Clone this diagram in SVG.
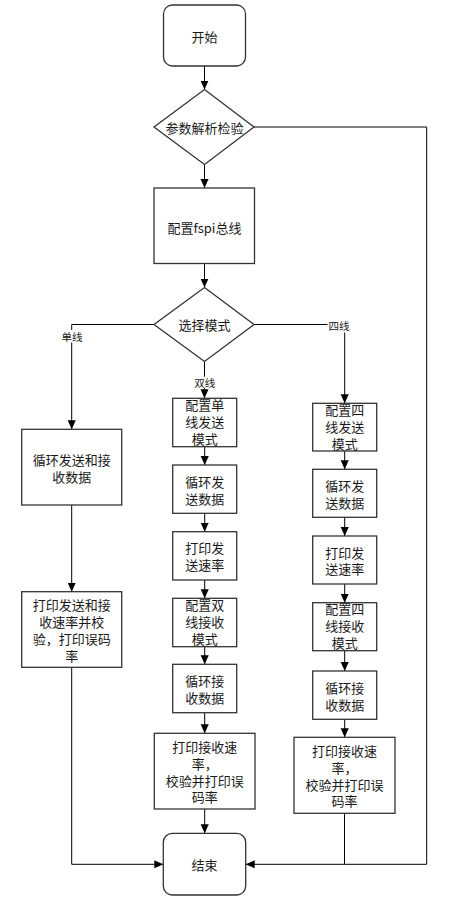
<svg xmlns="http://www.w3.org/2000/svg" width="453" height="898" viewBox="0 0 453 898">
<style>
.n{fill:#fff;stroke:#333;stroke-width:1.3}
.t{font-family:"Noto Sans CJK SC","Noto Sans",sans-serif;font-size:13px;fill:#1a1a1a;text-anchor:middle;dominant-baseline:central}
.l{font-family:"Noto Sans CJK SC","Noto Sans",sans-serif;font-size:10.5px;fill:#1a1a1a;text-anchor:middle;dominant-baseline:central}
.c{fill:none;stroke:#000;stroke-width:1}
.a{marker-end:url(#ah)}
.bg{fill:#fff}
</style>
<defs>
<marker id="ah" viewBox="0 0 10 10" refX="10" refY="5" markerWidth="9" markerHeight="9" markerUnits="userSpaceOnUse" orient="auto">
<path d="M0,0.5 L10,5 L0,9.5 z" fill="#000"/>
</marker>
</defs>
<rect width="453" height="898" fill="#fff"/>
<g id="connectors">
<line class="c a" x1="204.5" y1="66" x2="204.5" y2="89.5"/>
<polyline class="c a" points="254,127 426.7,127 426.7,864.3 245.7,864.3"/>
<line class="c a" x1="204.5" y1="164.5" x2="204.5" y2="188"/>
<line class="c a" x1="204.5" y1="263.5" x2="204.5" y2="287.5"/>
<polyline class="c a" points="154,324.5 71.7,324.5 71.7,429.3"/>
<polyline class="c a" points="254,324.5 344.7,324.5 344.7,403.3"/>
<line class="c a" x1="204.5" y1="361.5" x2="204.5" y2="398.3"/>
<rect class="bg" x="60" y="330" width="24" height="12.5"/>
<text class="l" x="72" y="336.5">单线</text>
<rect class="bg" x="327.5" y="318.5" width="23" height="14"/>
<text class="l" x="339" y="325">四线</text>
<rect class="bg" x="193" y="376.7" width="23" height="11.5"/>
<text class="l" x="204.7" y="382.5">双线</text>
<line class="c a" x1="71.7" y1="505" x2="71.7" y2="591.7"/>
<polyline class="c a" points="71.7,667.3 71.7,864.3 163.3,864.3"/>
<line class="c a" x1="204.7" y1="446.7" x2="204.7" y2="465"/>
<line class="c a" x1="204.7" y1="513.3" x2="204.7" y2="531.7"/>
<line class="c a" x1="204.7" y1="580" x2="204.7" y2="598.3"/>
<line class="c a" x1="204.7" y1="646.7" x2="204.7" y2="664.3"/>
<line class="c a" x1="204.7" y1="712.7" x2="204.7" y2="733.3"/>
<line class="c a" x1="204.7" y1="809" x2="204.7" y2="833.3"/>
<line class="c a" x1="344.7" y1="451" x2="344.7" y2="469.3"/>
<line class="c a" x1="344.7" y1="517.3" x2="344.7" y2="536"/>
<line class="c a" x1="344.7" y1="584" x2="344.7" y2="602.7"/>
<line class="c a" x1="344.7" y1="650.7" x2="344.7" y2="671"/>
<line class="c a" x1="344.7" y1="719.3" x2="344.7" y2="737.3"/>
<line class="c" x1="344.5" y1="813.3" x2="344.5" y2="864.3"/>
</g>
<g id="start"><rect class="n" x="163.5" y="5" width="82" height="61" rx="9"/><text class="t" x="204.5" y="36">开始</text></g>
<g id="check"><polygon class="n" points="204.5,89.5 254,127 204.5,164.5 154,127"/><text class="t" x="204.5" y="127">参数解析检验</text></g>
<g id="cfg"><rect class="n" x="154" y="188" width="100.5" height="75.5"/><text class="t" x="204.5" y="227.5">配置fspi总线</text></g>
<g id="mode"><polygon class="n" points="204.5,287.5 254,324.5 204.5,361.5 154,324.5"/><text class="t" x="204.5" y="324.5">选择模式</text></g>
<g id="s1"><rect class="n" x="21.7" y="429.3" width="100" height="75.7"/><text class="t"><tspan x="71.7" y="458.8">循环发送和接</tspan><tspan x="71.7" y="475.6">收数据</tspan></text></g>
<g id="s2"><rect class="n" x="21.7" y="591.7" width="100" height="75.6"/><text class="t"><tspan x="71.7" y="604.3">打印发送和接</tspan><tspan x="71.7" y="621.1">收速率并校</tspan><tspan x="71.7" y="637.9">验，打印误码</tspan><tspan x="71.7" y="654.7">率</tspan></text></g>
<g id="d1"><rect class="n" x="172.7" y="398.3" width="64" height="48.4"/><text class="t"><tspan x="204.7" y="404.3">配置单</tspan><tspan x="204.7" y="421.1">线发送</tspan><tspan x="204.7" y="437.9">模式</tspan></text></g>
<g id="d2"><rect class="n" x="172.7" y="465" width="64" height="48.3"/><text class="t"><tspan x="204.7" y="480.7">循环发</tspan><tspan x="204.7" y="497.5">送数据</tspan></text></g>
<g id="d3"><rect class="n" x="172.7" y="531.7" width="64" height="48.3"/><text class="t"><tspan x="204.7" y="547.4">打印发</tspan><tspan x="204.7" y="564.2">送速率</tspan></text></g>
<g id="d4"><rect class="n" x="172.7" y="598.3" width="64" height="48.4"/><text class="t"><tspan x="204.7" y="604.3">配置双</tspan><tspan x="204.7" y="621.1">线接收</tspan><tspan x="204.7" y="637.9">模式</tspan></text></g>
<g id="d5"><rect class="n" x="172.7" y="664.3" width="64" height="48.4"/><text class="t"><tspan x="204.7" y="680.1">循环接</tspan><tspan x="204.7" y="696.9">收数据</tspan></text></g>
<g id="d6"><rect class="n" x="154.3" y="733.3" width="100.7" height="75.7"/><text class="t"><tspan x="204.7" y="746">打印接收速</tspan><tspan x="204.7" y="762.8">率，</tspan><tspan x="204.7" y="779.6">校验并打印误</tspan><tspan x="204.7" y="796.4">码率</tspan></text></g>
<g id="q1"><rect class="n" x="312.7" y="403.3" width="64" height="47.7"/><text class="t"><tspan x="344.7" y="409.3">配置四</tspan><tspan x="344.7" y="426.1">线发送</tspan><tspan x="344.7" y="442.9">模式</tspan></text></g>
<g id="q2"><rect class="n" x="312.7" y="469.3" width="64" height="48"/><text class="t"><tspan x="344.7" y="484.9">循环发</tspan><tspan x="344.7" y="501.7">送数据</tspan></text></g>
<g id="q3"><rect class="n" x="312.7" y="536" width="64" height="48"/><text class="t"><tspan x="344.7" y="551.6">打印发</tspan><tspan x="344.7" y="568.4">送速率</tspan></text></g>
<g id="q4"><rect class="n" x="312.7" y="602.7" width="64" height="48"/><text class="t"><tspan x="344.7" y="608.3">配置四</tspan><tspan x="344.7" y="625.1">线接收</tspan><tspan x="344.7" y="641.9">模式</tspan></text></g>
<g id="q5"><rect class="n" x="312.7" y="671" width="64" height="48.3"/><text class="t"><tspan x="344.7" y="686.7">循环接</tspan><tspan x="344.7" y="703.5">收数据</tspan></text></g>
<g id="q6"><rect class="n" x="294" y="737.3" width="101" height="76"/><text class="t"><tspan x="344.5" y="750">打印接收速</tspan><tspan x="344.5" y="766.8">率，</tspan><tspan x="344.5" y="783.6">校验并打印误</tspan><tspan x="344.5" y="800.4">码率</tspan></text></g>
<g id="end"><rect class="n" x="163.3" y="833.3" width="82.4" height="61.7" rx="9"/><text class="t" x="204.5" y="864.3">结束</text></g>
</svg>
